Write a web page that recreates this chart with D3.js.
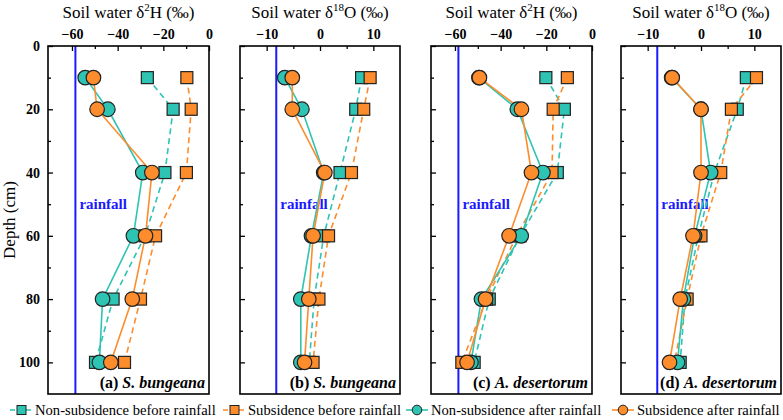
<!DOCTYPE html>
<meta charset="utf-8" />

<!-- Load d3.js -->
<script src="https://d3js.org/d3.v7.min.js"></script>

<style>
  body { margin: 0; background: #fff; }
  svg, svg text { font-family: "Liberation Serif", "Times New Roman", Times, "DejaVu Serif", serif !important; }
</style>

<!-- Create a div where the graph will take place -->
<div id="my_dataviz"></div>

<script>
  // depths (cm) of the soil samples
  const depths = [10, 20, 40, 60, 80, 100];

  // (a) S. bungeana, d2H
  const aNonBefore = [-27, -15.7, -19.3, -28, -42, -49.7];
  const aSubBefore = [-9.7, -7.8, -9.9, -23.4, -30, -37];
  const aNonAfter = [-54.2, -44.3, -29, -33.1, -46.6, -48];
  const aSubAfter = [-50.6, -49, -25, -27.8, -33.6, -43];

  // (b) S. bungeana, d18O
  const bNonBefore = [7.8, 6.7, 3.75, 0.7, -1.1, -2];
  const bSubBefore = [9.4, 8.2, 5.9, 1.6, -0.2, -1.3];
  const bNonAfter = [-6.6, -3.4, 0.7, -1.6, -3.6, -3.6];
  const bSubAfter = [-5.2, -5.2, 0.9, -1.3, -2.1, -2.9];

  // (c) A. desertorum, d2H
  const cNonBefore = [-20.2, -12.1, -15.2, -31.5, -45, -51.6];
  const cSubBefore = [-10.8, -17, -17.5, -33, -46.2, -57];
  const cNonAfter = [-49.5, -32.7, -21.5, -31, -48.4, -53];
  const cSubAfter = [-49.3, -30.9, -26.5, -36.3, -46.6, -54.7];

  // (d) A. desertorum, d18O
  const dNonBefore = [8.5, 6.8, 2.5, -0.5, -3, -3.9];
  const dSubBefore = [10.4, 5.7, 3.7, 0, -2.6, -5];
  const dNonAfter = [-5.5, 0, 1.8, -1.2, -3.3, -4.4];
  const dSubAfter = [-5.4, 0, 0, -1.5, -3.9, -5.9];

  // rainfall isotope values
  const rainH = -58.5;
  const rainO = -8.2;

  const seriesNames = [
    "Non-subsidence before rainfall",
    "Subsidence before rainfall",
    "Non-subsidence after rainfall",
    "Subsidence after rainfall",
  ];

  const teal = "#2ec4b4";
  const orange = "#fd8c2c";
  const colors = [teal, orange, teal, orange];
  const symbols = ["square", "square", "circle", "circle"];

  const panels = [
    { iso: "2", el: "H", domain: [-70.5, 0], ticks: [-60, -40, -20, 0], minor: [-50, -30, -10], rain: rainH, label: "(a) ", sp: "S. bungeana", data: [aNonBefore, aSubBefore, aNonAfter, aSubAfter], x0: 48, x1: 209 },
    { iso: "18", el: "O", domain: [-15, 15], ticks: [-10, 0, 10], minor: [-5, 5], rain: rainO, label: "(b) ", sp: "S. bungeana", data: [bNonBefore, bSubBefore, bNonAfter, bSubAfter], x0: 240, x1: 400 },
    { iso: "2", el: "H", domain: [-70.5, 0], ticks: [-60, -40, -20, 0], minor: [-50, -30, -10], rain: rainH, label: "(c) ", sp: "A. desertorum", data: [cNonBefore, cSubBefore, cNonAfter, cSubAfter], x0: 431, x1: 592 },
    { iso: "18", el: "O", domain: [-15, 15], ticks: [-10, 0, 10], minor: [-5, 5], rain: rainO, label: "(d) ", sp: "A. desertorum", data: [dNonBefore, dSubBefore, dNonAfter, dSubAfter], x0: 621, x1: 781 },
  ];

  const width = 783,
    height = 420;
  const plotTop = 46,
    plotBottom = 394;
  const serif = '"Liberation Serif", "Times New Roman", serif';

  const svg = d3
    .select("#my_dataviz")
    .append("svg")
    .attr("width", width)
    .attr("height", height)
    .attr("font-family", serif);

  // shared depth scale
  const y = d3.scaleLinear().domain([0, 110]).range([plotTop, plotBottom]);

  panels.forEach(function (p, pi) {
    const x = d3.scaleLinear().domain(p.domain).range([p.x0, p.x1]);
    const g = svg.append("g");

    // rainfall line
    g.append("line")
      .attr("x1", x(p.rain))
      .attr("x2", x(p.rain))
      .attr("y1", plotTop)
      .attr("y2", plotBottom)
      .attr("stroke", "#1a1aff")
      .attr("stroke-width", 2);

    g.append("text")
      .attr("x", x(p.rain) + 4)
      .attr("y", y(50) + 5)
      .attr("fill", "#1a1aff")
      .style("font-weight", "bold")
      .style("font-size", "15px")
      .text("rainfall");

    // lines (dashed before rainfall, solid after)
    const line = d3
      .line()
      .x(function (d) {
        return x(d[0]);
      })
      .y(function (d) {
        return y(d[1]);
      });

    p.data.forEach(function (vals, si) {
      const pts = vals.map(function (v, i) {
        return [v, depths[i]];
      });
      g.append("path")
        .datum(pts)
        .attr("fill", "none")
        .attr("stroke", colors[si])
        .attr("stroke-width", 1.6)
        .attr("stroke-dasharray", si < 2 ? "6,4" : null)
        .attr("d", line);
    });

    // markers
    p.data.forEach(function (vals, si) {
      const pts = vals.map(function (v, i) {
        return [v, depths[i]];
      });
      if (symbols[si] === "square") {
        g.selectAll(null)
          .data(pts)
          .join("rect")
          .attr("x", function (d) {
            return x(d[0]) - 6;
          })
          .attr("y", function (d) {
            return y(d[1]) - 6;
          })
          .attr("width", 12)
          .attr("height", 12)
          .attr("fill", colors[si])
          .attr("stroke", "#222")
          .attr("stroke-width", 1.2);
      } else {
        g.selectAll(null)
          .data(pts)
          .join("circle")
          .attr("cx", function (d) {
            return x(d[0]);
          })
          .attr("cy", function (d) {
            return y(d[1]);
          })
          .attr("r", 7.3)
          .attr("fill", colors[si])
          .attr("stroke", "#222")
          .attr("stroke-width", 1.2);
      }
    });

    // top axis, ticks pointing inward
    g.append("g")
      .attr("transform", `translate(0, ${plotTop})`)
      .call(d3.axisTop(x).tickValues(p.ticks).tickSizeInner(-5).tickSizeOuter(0).tickPadding(7));
    g.append("g")
      .attr("transform", `translate(0, ${plotTop})`)
      .call(d3.axisTop(x).tickValues(p.minor).tickSizeInner(-3).tickSizeOuter(0).tickFormat(""));

    // left axis, ticks pointing inward
    g.append("g")
      .attr("transform", `translate(${p.x0}, 0)`)
      .call(
        d3
          .axisLeft(y)
          .tickValues([0, 20, 40, 60, 80, 100])
          .tickSizeInner(-5)
          .tickSizeOuter(0)
          .tickPadding(8)
          .tickFormat(pi === 0 ? d3.format("d") : "")
      );
    g.append("g")
      .attr("transform", `translate(${p.x0}, 0)`)
      .call(d3.axisLeft(y).tickValues([10, 30, 50, 70, 90]).tickSizeInner(-3).tickSizeOuter(0).tickFormat(""));

    g.selectAll(".domain").remove();
    g.selectAll(".tick line").attr("stroke", "#000").attr("stroke-width", 1.3);
    g.selectAll("g").attr("font-family", serif);
    g.selectAll(".tick text")
      .style("font-size", "14px")
      .style("font-weight", "bold")
      .attr("fill", "#000");

    // frame
    g.append("rect")
      .attr("x", p.x0)
      .attr("y", plotTop)
      .attr("width", p.x1 - p.x0)
      .attr("height", plotBottom - plotTop)
      .attr("fill", "none")
      .attr("stroke", "#000")
      .attr("stroke-width", 1.6);

    // title with superscript
    const title = g
      .append("text")
      .attr("x", (p.x0 + p.x1) / 2)
      .attr("y", 18)
      .attr("text-anchor", "middle")
      .style("font-size", "17px");
    title.append("tspan").text("Soil water \u03b4");
    title.append("tspan").attr("dy", -7).style("font-size", "11px").text(p.iso);
    title.append("tspan").attr("dy", 7).text(p.el + " (\u2030)");

    // panel label
    const lab = g
      .append("text")
      .attr("x", p.x1 - 4)
      .attr("y", plotBottom - 6)
      .attr("text-anchor", "end")
      .style("font-size", "16px")
      .style("font-weight", "bold");
    lab.append("tspan").text(p.label);
    lab.append("tspan").style("font-style", "italic").text(p.sp);
  });

  // Y axis label
  svg
    .append("text")
    .attr("transform", `translate(15, ${y(55)}) rotate(-90)`)
    .attr("text-anchor", "middle")
    .style("font-size", "17px")
    .text("Depth (cm)");

  //////////
  // LEGEND //
  //////////
  const legendX = [10, 223, 406, 612];
  const legendY = 410;
  const legend = svg
    .selectAll("legendItem")
    .data(seriesNames)
    .join("g")
    .attr("transform", function (d, i) {
      return `translate(${legendX[i]}, ${legendY})`;
    });

  legend
    .append("line")
    .attr("x1", 0)
    .attr("x2", 22)
    .attr("stroke", function (d, i) {
      return colors[i];
    })
    .attr("stroke-width", 1.6)
    .attr("stroke-dasharray", function (d, i) {
      return i < 2 ? "5,3" : null;
    });

  legend.each(function (d, i) {
    const item = d3.select(this);
    if (symbols[i] === "square") {
      item
        .append("rect")
        .attr("x", 7)
        .attr("y", -4.5)
        .attr("width", 9)
        .attr("height", 9)
        .attr("fill", colors[i])
        .attr("stroke", "#222")
        .attr("stroke-width", 1);
    } else {
      item
        .append("circle")
        .attr("cx", 11)
        .attr("cy", 0)
        .attr("r", 4.8)
        .attr("fill", colors[i])
        .attr("stroke", "#222")
        .attr("stroke-width", 1);
    }
  });

  legend
    .append("text")
    .attr("x", 25)
    .attr("y", 5)
    .style("font-size", "14.6px")
    .text(function (d) {
      return d;
    });
</script>
